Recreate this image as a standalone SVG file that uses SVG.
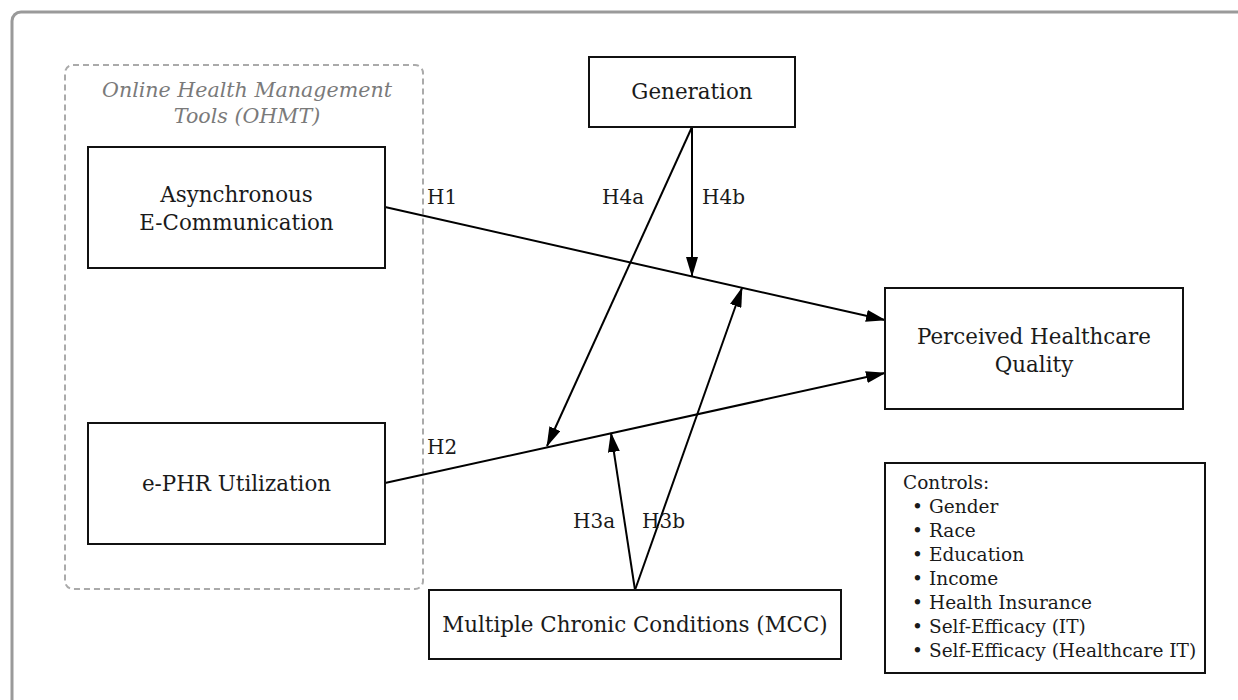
<svg xmlns="http://www.w3.org/2000/svg" width="1238" height="700" viewBox="0 0 1238 700">
<defs>
<style>
text{font-family:"DejaVu Serif","Liberation Serif",serif;fill:#1a1a1a;}
.box{fill:#fff;stroke:#111;stroke-width:2;}
.lbl{font-size:20px;}
.nt{font-size:21.4px;text-anchor:middle;}
.ctl{font-size:18.5px;}
.conn{stroke:#000;stroke-width:2;fill:none;}
.title{font-size:20.6px;font-style:italic;fill:#7a7a7a;text-anchor:middle;}
</style>
<marker id="ah" markerUnits="userSpaceOnUse" markerWidth="20" markerHeight="12" refX="19" refY="6" orient="auto">
<path d="M0,0 L20,6 L0,12 z" fill="#000"/>
</marker>
</defs>
<rect x="0" y="0" width="1238" height="700" fill="#fff"/>
<rect x="12" y="12" width="1250" height="720" rx="9" fill="none" stroke="#9a9a9a" stroke-width="3"/>
<g id="ohmt-group">
<rect x="65" y="65" width="358" height="524" rx="8" fill="none" stroke="#aaa" stroke-width="2" stroke-dasharray="6 4"/>
<text class="title" x="247" y="97">Online Health Management</text>
<text class="title" x="247" y="123">Tools (OHMT)</text>
</g>
<g id="connectors">
<line class="conn" x1="385" y1="207" x2="885" y2="320" marker-end="url(#ah)"/>
<line class="conn" x1="385" y1="483" x2="885" y2="373" marker-end="url(#ah)"/>
<line class="conn" x1="692" y1="127" x2="692" y2="276" marker-end="url(#ah)"/>
<line class="conn" x1="692" y1="127" x2="547" y2="446" marker-end="url(#ah)"/>
<line class="conn" x1="635" y1="590" x2="611" y2="433" marker-end="url(#ah)"/>
<line class="conn" x1="635" y1="590" x2="742" y2="288" marker-end="url(#ah)"/>
<text class="lbl" x="427" y="204">H1</text>
<text class="lbl" x="427" y="454">H2</text>
<text class="lbl" x="602" y="204">H4a</text>
<text class="lbl" x="702" y="204">H4b</text>
<text class="lbl" x="573" y="528">H3a</text>
<text class="lbl" x="642" y="528">H3b</text>
</g>
<g id="async">
<rect class="box" x="88" y="147" width="297" height="121"/>
<text class="nt" x="236.5" y="202">Asynchronous</text>
<text class="nt" x="236.5" y="230">E-Communication</text>
</g>
<g id="ephr">
<rect class="box" x="88" y="423" width="297" height="121"/>
<text class="nt" x="236.5" y="491">e-PHR Utilization</text>
</g>
<g id="generation">
<rect class="box" x="589" y="57" width="206" height="70"/>
<text class="nt" x="692" y="99">Generation</text>
</g>
<g id="phq">
<rect class="box" x="885" y="288" width="298" height="121"/>
<text class="nt" x="1034" y="344">Perceived Healthcare</text>
<text class="nt" x="1034" y="372">Quality</text>
</g>
<g id="mcc">
<rect class="box" x="429" y="590" width="412" height="69"/>
<text class="nt" x="635" y="632">Multiple Chronic Conditions (MCC)</text>
</g>
<g id="controls">
<rect class="box" x="885" y="463" width="320" height="210"/>
<text class="ctl" x="903" y="489">Controls:</text>
<text class="ctl" x="912" y="513">•</text><text class="ctl" x="929" y="513">Gender</text>
<text class="ctl" x="912" y="537">•</text><text class="ctl" x="929" y="537">Race</text>
<text class="ctl" x="912" y="561">•</text><text class="ctl" x="929" y="561">Education</text>
<text class="ctl" x="912" y="585">•</text><text class="ctl" x="929" y="585">Income</text>
<text class="ctl" x="912" y="609">•</text><text class="ctl" x="929" y="609">Health Insurance</text>
<text class="ctl" x="912" y="633">•</text><text class="ctl" x="929" y="633">Self-Efficacy (IT)</text>
<text class="ctl" x="912" y="657">•</text><text class="ctl" x="929" y="657">Self-Efficacy (Healthcare IT)</text>
</g>
</svg>
